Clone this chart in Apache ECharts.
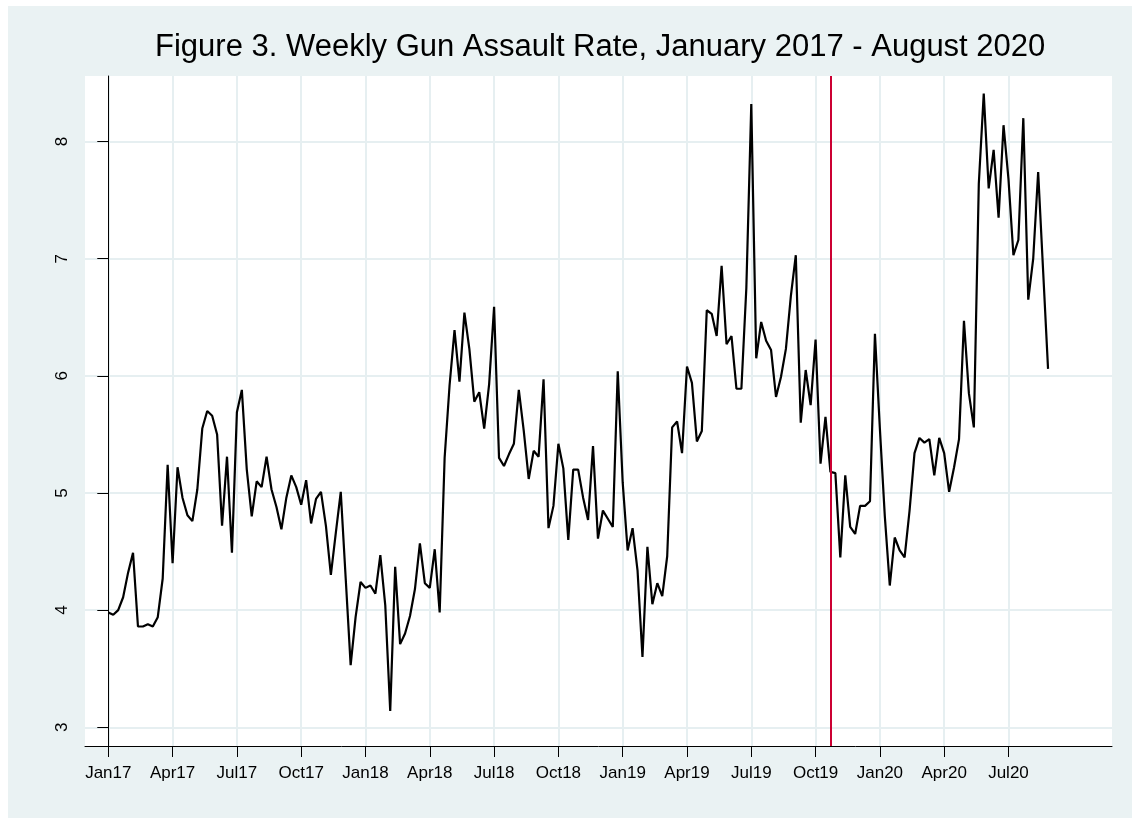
<!DOCTYPE html>
<html>
<head>
<meta charset="utf-8">
<script src="https://cdn.jsdelivr.net/npm/echarts@6/dist/echarts.min.js"></script>
<style>
  html, body { margin: 0; padding: 0; background: #fff; }
  #chart { width: 1132px; height: 825px; }
</style>
</head>
<body>
<div id="chart"></div>
<script>
// weekly rate, week 0 = first week of Jan 2017
var rates = [
  3.98, 3.96, 4.00, 4.11, 4.32, 4.49, 3.86, 3.86, 3.88, 3.86,
  3.94, 4.27, 5.24, 4.40, 5.22, 4.96, 4.81, 4.76, 5.03, 5.55,
  5.70, 5.66, 5.50, 4.72, 5.31, 4.49, 5.69, 5.88, 5.20, 4.80,
  5.10, 5.05, 5.31, 5.03, 4.88, 4.69, 4.96, 5.15, 5.05, 4.90,
  5.11, 4.74, 4.95, 5.01, 4.72, 4.30, 4.66, 5.01, 4.27, 3.53,
  3.94, 4.24, 4.19, 4.21, 4.14, 4.47, 4.04, 3.14, 4.37, 3.71,
  3.80, 3.95, 4.18, 4.57, 4.23, 4.19, 4.52, 3.98, 5.30, 5.92,
  6.39, 5.95, 6.54, 6.23, 5.78, 5.86, 5.55, 5.93, 6.59, 5.30,
  5.23, 5.33, 5.42, 5.88, 5.53, 5.12, 5.36, 5.31, 5.97, 4.70,
  4.89, 5.42, 5.21, 4.60, 5.20, 5.20, 4.96, 4.77, 5.40, 4.61,
  4.85, 4.78, 4.71, 6.04, 5.09, 4.51, 4.70, 4.34, 3.60, 4.54,
  4.05, 4.23, 4.12, 4.46, 5.56, 5.61, 5.34, 6.08, 5.94, 5.44,
  5.53, 6.56, 6.53, 6.34, 6.94, 6.27, 6.34, 5.89, 5.89, 6.75,
  8.32, 6.15, 6.46, 6.30, 6.22, 5.82, 5.99, 6.23, 6.68, 7.03,
  5.60, 6.05, 5.75, 6.31, 5.25, 5.65, 5.18, 5.17, 4.45, 5.15,
  4.71, 4.65, 4.89, 4.89, 4.93, 6.36, 5.55, 4.80, 4.21, 4.62,
  4.51, 4.45, 4.85, 5.34, 5.47, 5.43, 5.46, 5.15, 5.47, 5.34,
  5.01, 5.22, 5.46, 6.47, 5.85, 5.56, 7.64, 8.41, 7.60, 7.93,
  7.35, 8.14, 7.68, 7.03, 7.16, 8.20, 6.65, 7.00, 7.74, 6.90,
  6.06
];

var tickWeeks = [0, 13, 26, 39, 52, 65, 78, 91, 104, 117, 130, 143, 156, 169, 182];
var tickLabels = ['Jan17', 'Apr17', 'Jul17', 'Oct17', 'Jan18', 'Apr18', 'Jul18', 'Oct18',
  'Jan19', 'Apr19', 'Jul19', 'Oct19', 'Jan20', 'Apr20', 'Jul20'];
var yTicks = [3, 4, 5, 6, 7, 8];
var cutoffWeek = 146; // vertical reference line

var font = '"Liberation Sans", Arial, Helvetica, sans-serif';
var gridColor = '#e6eff1';

var chart = echarts.init(document.getElementById('chart'));

chart.setOption({
  backgroundColor: '#fff',
  animation: false,
  graphic: [{
    type: 'rect',
    z: -10,
    shape: { x: 8, y: 6, width: 1124, height: 812 },
    style: { fill: '#eaf2f3' }
  }],
  title: {
    text: 'Figure 3. Weekly Gun Assault Rate, January 2017 - August 2020',
    left: 150,
    top: 27,
    textStyle: {
      fontFamily: font,
      fontSize: 31,
      fontWeight: 'normal',
      color: '#000'
    }
  },
  grid: {
    left: 85,
    right: 20,
    top: 76,
    bottom: 79,
    show: true,
    backgroundColor: '#fff',
    borderWidth: 0
  },
  xAxis: {
    type: 'value',
    min: -4.71,
    max: 202.93,
    axisLine: {
      show: true,
      lineStyle: { color: '#000', width: 1 }
    },
    axisTick: {
      show: true,
      length: 11,
      customValues: tickWeeks,
      lineStyle: { color: '#000', width: 1 }
    },
    axisLabel: {
      customValues: tickWeeks,
      margin: 19,
      color: '#000',
      fontFamily: font,
      fontSize: 17,
      formatter: function (v) {
        var i = tickWeeks.indexOf(Math.round(v));
        return i >= 0 ? tickLabels[i] : '';
      }
    },
    splitLine: {
      show: true,
      lineStyle: { color: gridColor, width: 2 }
    }
  },
  yAxis: {
    type: 'value',
    min: 2.84,
    max: 8.56,
    axisLine: {
      show: true,
      lineStyle: { color: '#000', width: 1 }
    },
    axisTick: {
      show: true,
      length: 11,
      customValues: yTicks,
      lineStyle: { color: '#000', width: 1 }
    },
    axisLabel: {
      customValues: yTicks,
      rotate: 90,
      margin: 14,
      color: '#000',
      fontFamily: font,
      fontSize: 17
    },
    splitLine: {
      show: true,
      lineStyle: { color: gridColor, width: 2 }
    }
  },
  series: [{
    type: 'line',
    data: rates.map(function (v, i) { return [i, v]; }),
    showSymbol: false,
    lineStyle: { color: '#000', width: 2.2 },
    markLine: {
      silent: true,
      symbol: 'none',
      label: { show: false },
      lineStyle: { color: '#cc0033', width: 2, type: 'solid' },
      data: [{ xAxis: cutoffWeek }]
    }
  }]
});
</script>
</body>
</html>
